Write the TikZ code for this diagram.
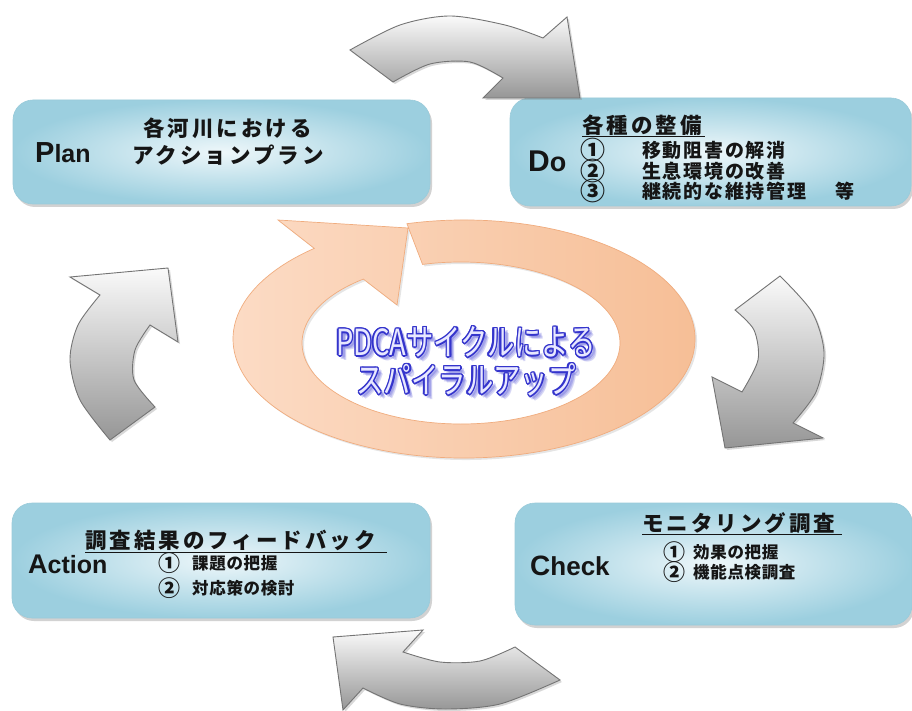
\documentclass[tikz,border=0pt]{standalone}
\usepackage{fontspec}
\setmainfont{Liberation Sans}
\newfontfamily\jpA{Noto Sans CJK JP}[LetterSpace=14]
\newfontfamily\jpB{Noto Sans CJK JP}[LetterSpace=9]
\newfontfamily\jpC{Noto Sans CJK JP}[LetterSpace=4]
\newfontfamily\jpD{Noto Sans CJK JP}
\usetikzlibrary{calc,shadows}
\definecolor{boxin}{HTML}{EEF7FA}
\definecolor{boxout}{HTML}{9CCFDF}
\definecolor{boxedge}{HTML}{9ACBDA}
\definecolor{txt}{HTML}{151515}
\definecolor{garrtop}{HTML}{FAFAFA}
\definecolor{garrbot}{HTML}{969696}
\definecolor{garredge}{HTML}{747474}
\definecolor{ringL}{HTML}{FCDCC6}
\definecolor{ringR}{HTML}{F6BD94}
\definecolor{ringedge}{HTML}{F0AC7E}
\definecolor{outblue}{HTML}{3434CC}
\definecolor{fillblue}{HTML}{E8E8FF}
\definecolor{shblue}{HTML}{7C7CE0}
\newcommand\ctlineA{\scalebox{0.76}[1]{PDCAサイクルによる}}
\newcommand\ctlineB{\scalebox{0.76}[1]{スパイラルアップ}}
\begin{document}
\begin{tikzpicture}[x=1pt,y=1pt,
  pbox/.style={rounded corners=20pt, inner sep=0pt, outer sep=0pt,
    inner color=boxin, outer color=boxout, draw=boxedge, line width=0.6pt,
    drop shadow={opacity=0.35, shadow xshift=2pt, shadow yshift=-3pt}},
  garrow/.style={top color=garrtop, bottom color=garrbot, draw=garredge,
    line width=0.9pt, line join=miter,
    drop shadow={opacity=0.3, shadow xshift=2pt, shadow yshift=-2pt}},
  ringstyle/.style={left color=ringL, right color=ringR, draw=ringedge,
    line width=0.7pt, line join=miter,
    drop shadow={opacity=0.2, shadow xshift=2pt, shadow yshift=-2pt}},
  lat/.style={inner sep=0pt, anchor=base west, text=txt, font=\bfseries},
  hdA/.style={inner sep=0pt, anchor=west, text=txt, font=\jpA\bfseries\fontsize{21.5}{21.5}\selectfont},
  itB/.style={inner sep=0pt, anchor=west, text=txt, font=\jpB\bfseries\fontsize{19}{19}\selectfont},
  itC/.style={inner sep=0pt, anchor=west, text=txt, font=\jpC\bfseries\fontsize{16.5}{16.5}\selectfont},
  numB/.style={inner sep=0pt, anchor=west, text=txt, font=\jpD\bfseries\fontsize{25}{25}\selectfont},
  numC/.style={inner sep=0pt, anchor=west, text=txt, font=\jpD\bfseries\fontsize{22}{22}\selectfont},
  uline/.style={draw=txt, line width=1pt},
  ctext/.style={inner sep=0pt, font=\jpD\fontsize{36}{36}\selectfont}
]
\useasboundingbox (0,0) rectangle (912,-711);
\fill[white] (0,0) rectangle (912,-711);

% ---- boxes ----
\node[pbox, minimum width=417pt, minimum height=104pt] (plan) at (221.5,-152) {};
\node[pbox, minimum width=401pt, minimum height=108pt] (do) at (710.5,-152) {};
\node[pbox, minimum width=418pt, minimum height=115pt] (act) at (221,-560.5) {};
\node[pbox, minimum width=397pt, minimum height=122pt] (chk) at (713.5,-564) {};

% ---- orange ring arrow ----
\path[ringstyle]
  ($(464,-339)+(104.3:231 and 119)$)
  arc[start angle=104.3, end angle=-229.6, x radius=231pt, y radius=119pt]
  -- (278,-220) -- (408,-228) -- (397,-305)
  -- ($(461,-343)+(-232.1:159 and 81)$)
  arc[start angle=-232.1, end angle=104, x radius=159pt, y radius=81pt]
  -- cycle;

% ---- gray cycle arrows ----
\path[garrow] plot[smooth] coordinates {(350,-50) (400,-25) (450,-16) (505,-25) (543,-38)}
  -- (567,-17) -- (580,-98) -- (483,-98) -- (503,-78)
  -- plot[smooth] coordinates {(503,-78) (470,-62) (430,-64) (393,-82)} -- cycle;
\path[garrow] plot[smooth] coordinates {(780,-276) (812,-312) (824,-352) (816,-392) (793,-423)}
  -- (823,-438) -- (725,-448) -- (712,-377) -- (742,-392)
  -- plot[smooth] coordinates {(742,-392) (758,-360) (754,-330) (735,-310)} -- cycle;
\path[garrow] plot[smooth] coordinates {(515,-647) (480,-661) (440,-662) (403,-652)}
  -- (423,-630) -- (333,-637) -- (343,-710) -- (363,-688)
  -- plot[smooth] coordinates {(363,-688) (400,-704) (445,-709) (500,-704) (560,-680)} -- cycle;
\path[garrow] plot[smooth] coordinates {(110,-440) (80,-400) (70,-360) (78,-325) (100,-295)}
  -- (70,-277) -- (168,-268) -- (178,-342) -- (150,-325)
  -- plot[smooth] coordinates {(150,-325) (135,-350) (134,-380) (155,-407)} -- cycle;

% ---- center text ----
\foreach \dx/\dy [count=\i] in {3/-3, 4/-4, 4/-2, 2/-4, 5/-5} {
  \node[ctext, text=shblue, opacity=0.3] (sa\i) at (466+\dx,-342+\dy) {\ctlineA};
  \node[ctext, text=shblue, opacity=0.3] (sb\i) at (466+\dx,-380+\dy) {\ctlineB};
}
\foreach \a [count=\i] in {0,30,...,330} {
  \node[ctext, text=outblue] (oa\i) at ($(466,-342)+(\a:1.4)$) {\ctlineA};
  \node[ctext, text=outblue] (ob\i) at ($(466,-380)+(\a:1.4)$) {\ctlineB};
}
\node[ctext, text=fillblue] (cta) at (466,-342) {\ctlineA};
\node[ctext, text=fillblue] (ctb) at (466,-380) {\ctlineB};

% ---- Plan ----
\node[lat] (pP) at (35,-163) {\fontsize{29}{29}\selectfont P\fontsize{25}{25}\selectfont lan};
\node[hdA] (p1) at (143,-128) {各河川における};
\node[hdA] (p2) at (132,-155) {アクションプラン};

% ---- Do ----
\node[lat] (dD) at (528,-172) {\fontsize{30}{30}\selectfont D\fontsize{27}{27}\selectfont o};
\node[hdA] (d0) at (582,-125) {各種の整備};
\draw[uline] (582,-137) -- (705,-137);
\node[numB] (d1n) at (580,-150) {①};
\node[itB] (d1) at (642,-150) {移動阻害の解消};
\node[numB] (d2n) at (580,-171) {②};
\node[itB] (d2) at (642,-171) {生息環境の改善};
\node[numB] (d3n) at (580,-191) {③};
\node[itB] (d3) at (642,-191) {継続的な維持管理};
\node[itB] (d3b) at (835,-191) {等};

% ---- Action ----
\node[lat] (aA) at (28,-573) {\fontsize{27}{27}\selectfont A\fontsize{25}{25}\selectfont ction};
\node[hdA] (a0) at (85,-540) {調査結果のフィードバック};
\draw[uline] (85,-552) -- (387,-552);
\node[numC] (a1n) at (158,-563) {①};
\node[itC] (a1) at (192,-563) {課題の把握};
\node[numC] (a2n) at (158,-588) {②};
\node[itC] (a2) at (192,-588) {対応策の検討};

% ---- Check ----
\node[lat] (cC) at (530,-575) {\fontsize{28}{28}\selectfont C\fontsize{26}{26}\selectfont heck};
\node[hdA] (c0) at (642,-523) {モニタリング調査};
\draw[uline] (642,-534) -- (842,-534);
\node[numC] (c1n) at (663,-552) {①};
\node[itC] (c1) at (693,-552) {効果の把握};
\node[numC] (c2n) at (663,-572) {②};
\node[itC] (c2) at (693,-572) {機能点検調査};
\end{tikzpicture}
\end{document}
